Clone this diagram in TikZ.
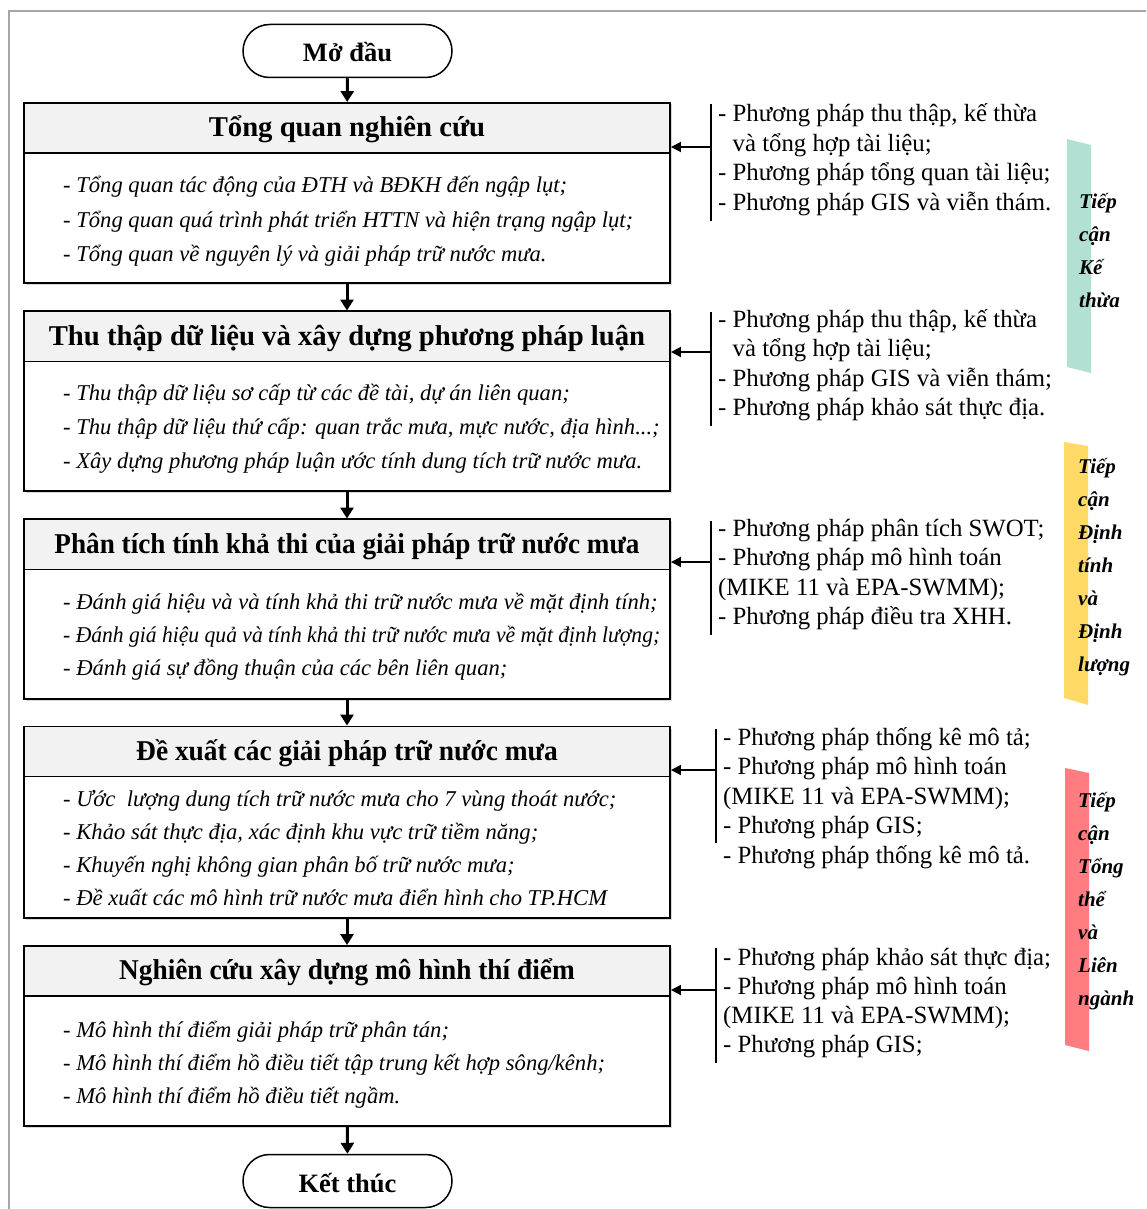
\documentclass[tikz,border=0pt]{standalone}
\usepackage{fontspec}
\setmainfont{Liberation Serif}
\newfontfamily\hdfont{Liberation Serif}
\usetikzlibrary{arrows.meta,shapes.misc,shadows}
\definecolor{hdgray}{HTML}{F2F2F2}
\definecolor{barteal}{HTML}{B2E1D3}
\definecolor{baryel}{HTML}{FFD966}
\definecolor{barred}{HTML}{FF7C80}
\definecolor{framegray}{HTML}{A6A6A6}
\newcommand{\tdots}{...}
\newcommand{\squeeze}[2]{\scalebox{#1}[1]{#2}}
\newcommand{\mylines}[6]{%
  \foreach \s [count=\i] in {#6}
    \node[#2] (#1-\i) at (#3,{#4+#5*(\i-1)}) {\s};}
\begin{document}
\begin{tikzpicture}[x=1pt,y=-1pt,
  box/.style={draw,line width=1.9pt,fill=white,minimum width=646pt,inner sep=0,
    drop shadow={shadow xshift=1.5pt,shadow yshift=-1.5pt,opacity=0.3}},
  hdr/.style={draw,line width=1.9pt,fill=hdgray,minimum width=646pt,minimum height=50pt,
    inner sep=0,text height=21pt,text depth=4pt,
    font=\hdfont\bfseries\fontsize{28.7}{30}\selectfont},
  bodyline/.style={anchor=base west,inner sep=0,font=\itshape\fontsize{22.6}{25}\selectfont},
  term/.style={draw,rounded rectangle,line width=1.5pt,minimum width=209pt,minimum height=53pt,
    inner sep=0,text height=25pt,text depth=3pt,font=\bfseries\fontsize{26.5}{28}\selectfont},
  flow/.style={line width=3pt,-{Triangle[length=11pt,width=13pt]}},
  side/.style={line width=1.8pt,-{Triangle[length=10pt,width=10pt]}},
  brk/.style={line width=1.5pt},
  methline/.style={anchor=base west,inner sep=0,font=\fontsize{24.8}{28}\selectfont},
  barline/.style={anchor=base west,inner sep=0,font=\bfseries\itshape\fontsize{21}{25}\selectfont}]
\useasboundingbox (0,0) rectangle (1146,1209);
\fill[white] (0,0) rectangle (1146,1209);
\draw[framegray,line width=1.5pt] (9,1209) -- (9,11) -- (1146,11);

% colour bars
\fill[barteal] (1067,139) -- (1091,145) -- (1091,373) -- (1067,367) -- cycle;
\fill[baryel] (1064,442) -- (1088,446) -- (1088,705) -- (1064,698) -- cycle;
\fill[barred] (1065,768) -- (1089,773) -- (1089,1051) -- (1065,1045) -- cycle;

% terminals
\node[term] (start) at (347.5,51) {Mở đầu};
\node[term] (end) at (347.5,1181) {Kết thúc};

% boxes
\node[box,minimum height=180pt] (b1) at (347,193) {};
\node[hdr] (h1) at (347,128) {Tổng quan nghiên cứu};
\node[box,minimum height=180pt] (b2) at (347,401) {};
\node[hdr] (h2) at (347,336.5) {Thu thập dữ liệu và xây dựng phương pháp luận};
\node[box,minimum height=180pt] (b3) at (347,609) {};
\node[hdr] (h3) at (347,544.5) {\squeeze{0.947}{Phân tích tính khả thi của giải pháp trữ nước mưa}};
\node[box,minimum height=191pt] (b4) at (347,822.5) {};
\node[hdr] (h4) at (347,751.5) {\squeeze{0.955}{Đề xuất các giải pháp trữ nước mưa}};
\node[box,minimum height=180pt] (b5) at (347,1036) {};
\node[hdr] (h5) at (347,971) {\squeeze{0.952}{Nghiên cứu xây dựng mô hình thí điểm}};

\mylines{t1}{bodyline}{63}{193}{34}{{- Tổng quan tác động của ĐTH và BĐKH đến ngập lụt;},
  {- Tổng quan quá trình phát triển HTTN và hiện trạng ngập lụt;},
  {- Tổng quan về nguyên lý và giải pháp trữ nước mưa.}}
\mylines{t2}{bodyline}{63}{400}{34}{{- Thu thập dữ liệu sơ cấp từ các đề tài, dự án liên quan;},
  {- Thu thập dữ liệu thứ cấp: quan trắc mưa, mực nước, địa hình\tdots;},
  {- Xây dựng phương pháp luận ước tính dung tích trữ nước mưa.}}
\mylines{t3}{bodyline}{63}{609}{33}{{- Đánh giá hiệu và và tính khả thi trữ nước mưa về mặt định tính;},
  {\squeeze{0.955}{- Đánh giá hiệu quả và tính khả thi trữ nước mưa về mặt định lượng;}},
  {- Đánh giá sự đồng thuận của các bên liên quan;}}
\mylines{t4}{bodyline}{63}{806}{33}{{- Ước\ \ lượng dung tích trữ nước mưa cho 7 vùng thoát nước;},
  {- Khảo sát thực địa, xác định khu vực trữ tiềm năng;},
  {- Khuyến nghị không gian phân bố trữ nước mưa;},
  {- Đề xuất các mô hình trữ nước mưa điển hình cho TP.HCM}}
\mylines{t5}{bodyline}{63}{1037}{33}{{- Mô hình thí điểm giải pháp trữ phân tán;},
  {- Mô hình thí điểm hồ điều tiết tập trung kết hợp sông/kênh;},
  {- Mô hình thí điểm hồ điều tiết ngầm.}}

% flow arrows
\draw[flow] (start) -- (h1);
\draw[flow] (b1) -- (h2);
\draw[flow] (b2) -- (h3);
\draw[flow] (b3) -- (h4);
\draw[flow] (b4) -- (h5);
\draw[flow] (b5) -- (end);

% method groups
\draw[brk] (711,104) -- (711,221);
\coordinate (g1) at (711,147);
\draw[side] (g1) -- (g1 -| b1.east);
\mylines{m1}{methline}{718}{122}{29.5}{{- Phương pháp thu thập, kế thừa},
  {\phantom{- }và tổng hợp tài liệu;},
  {- Phương pháp tổng quan tài liệu;},
  {- Phương pháp GIS và viễn thám.}}

\draw[brk] (711,312) -- (711,426);
\coordinate (g2) at (711,352);
\draw[side] (g2) -- (g2 -| b2.east);
\mylines{m2}{methline}{718}{327}{29.5}{{- Phương pháp thu thập, kế thừa},
  {\phantom{- }và tổng hợp tài liệu;},
  {- Phương pháp GIS và viễn thám;},
  {- Phương pháp khảo sát thực địa.}}

\draw[brk] (711,521) -- (711,635);
\coordinate (g3) at (711,562);
\draw[side] (g3) -- (g3 -| b3.east);
\mylines{m3}{methline}{718}{536}{29.5}{{- Phương pháp phân tích SWOT;},
  {- Phương pháp mô hình toán},
  {(MIKE 11 và EPA-SWMM);},
  {- Phương pháp điều tra XHH.}}

\draw[brk] (716,729) -- (716,843);
\coordinate (g4) at (716,770);
\draw[side] (g4) -- (g4 -| b4.east);
\mylines{m4}{methline}{723}{745}{29.5}{{- Phương pháp thống kê mô tả;},
  {- Phương pháp mô hình toán},
  {(MIKE 11 và EPA-SWMM);},
  {- Phương pháp GIS;},
  {- Phương pháp thống kê mô tả.}}

\draw[brk] (716,948) -- (716,1063);
\coordinate (g5) at (716,990);
\draw[side] (g5) -- (g5 -| b5.east);
\mylines{m5}{methline}{723}{965}{29.3}{{- Phương pháp khảo sát thực địa;},
  {- Phương pháp mô hình toán},
  {(MIKE 11 và EPA-SWMM);},
  {- Phương pháp GIS;}}

% bar labels
\mylines{k1}{barline}{1079}{208}{33}{Tiếp,cận,Kế,thừa}
\mylines{k2}{barline}{1078}{473}{33}{Tiếp,cận,Định,tính,và,Định,lượng}
\mylines{k3}{barline}{1078}{807}{33}{Tiếp,cận,Tổng,thể,và,Liên,ngành}
\end{tikzpicture}
\end{document}
